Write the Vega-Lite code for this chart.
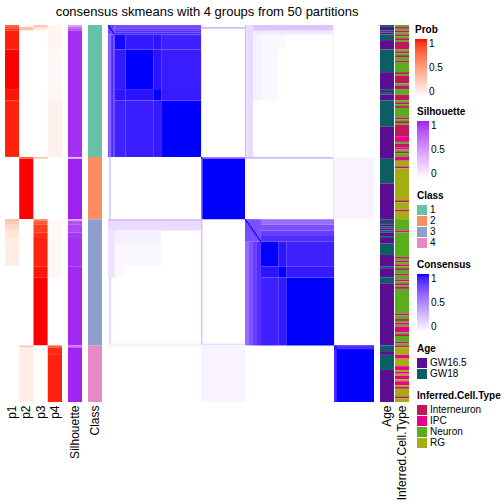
{
  "$schema": "https://vega.github.io/schema/vega-lite/v6.json",
  "width": 404,
  "height": 377,
  "padding": {"left": 5, "top": 6, "right": 0, "bottom": 0},
  "title": {"text": "consensus skmeans with 4 groups from 50 partitions", "fontSize": 13, "fontWeight": "normal", "font": "Liberation Sans", "color": "black", "offset": 6, "anchor": "middle"},
  "datasets": {
    "prob": [
      {"p": "p1", "from": 0, "to": 1, "v": 0.77}, {"p": "p1", "from": 1, "to": 2, "v": 0.88}, {"p": "p1", "from": 2, "to": 3, "v": 0.94}, {"p": "p1", "from": 3, "to": 13, "v": 0.97}, {"p": "p1", "from": 13, "to": 34, "v": 1.0}, {"p": "p1", "from": 34, "to": 40, "v": 0.985}, {"p": "p1", "from": 40, "to": 70, "v": 0.965}, {"p": "p1", "from": 70, "to": 103, "v": 0}, {"p": "p1", "from": 103, "to": 104, "v": 0.36}, {"p": "p1", "from": 104, "to": 106, "v": 0.28}, {"p": "p1", "from": 106, "to": 109, "v": 0.2}, {"p": "p1", "from": 109, "to": 113, "v": 0.14}, {"p": "p1", "from": 113, "to": 116, "v": 0.09}, {"p": "p1", "from": 116, "to": 128, "v": 0.1}, {"p": "p1", "from": 128, "to": 200, "v": 0},
      {"p": "p2", "from": 0, "to": 1, "v": 0}, {"p": "p2", "from": 1, "to": 3, "v": 0.32}, {"p": "p2", "from": 3, "to": 70, "v": 0}, {"p": "p2", "from": 70, "to": 71, "v": 0.77}, {"p": "p2", "from": 71, "to": 103, "v": 1.0}, {"p": "p2", "from": 103, "to": 170, "v": 0}, {"p": "p2", "from": 170, "to": 171, "v": 0.32}, {"p": "p2", "from": 171, "to": 200, "v": 0.09},
      {"p": "p3", "from": 0, "to": 1, "v": 0.32}, {"p": "p3", "from": 1, "to": 2, "v": 0.19}, {"p": "p3", "from": 2, "to": 3, "v": 0.1}, {"p": "p3", "from": 3, "to": 70, "v": 0}, {"p": "p3", "from": 70, "to": 71, "v": 0.32}, {"p": "p3", "from": 71, "to": 103, "v": 0}, {"p": "p3", "from": 103, "to": 104, "v": 0.64}, {"p": "p3", "from": 104, "to": 106, "v": 0.81}, {"p": "p3", "from": 106, "to": 110, "v": 0.9}, {"p": "p3", "from": 110, "to": 113, "v": 0.94}, {"p": "p3", "from": 113, "to": 128, "v": 0.965}, {"p": "p3", "from": 128, "to": 134, "v": 0.985}, {"p": "p3", "from": 134, "to": 170, "v": 1.0}, {"p": "p3", "from": 170, "to": 200, "v": 0},
      {"p": "p4", "from": 0, "to": 13, "v": 0.05}, {"p": "p4", "from": 13, "to": 34, "v": 0.035}, {"p": "p4", "from": 34, "to": 40, "v": 0.05}, {"p": "p4", "from": 40, "to": 70, "v": 0.07}, {"p": "p4", "from": 70, "to": 103, "v": 0}, {"p": "p4", "from": 103, "to": 134, "v": 0.045}, {"p": "p4", "from": 134, "to": 170, "v": 0}, {"p": "p4", "from": 170, "to": 171, "v": 0.81}, {"p": "p4", "from": 171, "to": 175, "v": 0.95}, {"p": "p4", "from": 175, "to": 200, "v": 0.965}
    ],
    "sil": [
      {"from": 0, "to": 1, "v": 0.47}, {"from": 1, "to": 2, "v": 0.73}, {"from": 2, "to": 3, "v": 0.87}, {"from": 3, "to": 70, "v": 0.96},
      {"from": 70, "to": 71, "v": 0.35}, {"from": 71, "to": 103, "v": 1.0},
      {"from": 103, "to": 104, "v": 0.47}, {"from": 104, "to": 106, "v": 0.84}, {"from": 106, "to": 110, "v": 0.88}, {"from": 110, "to": 113, "v": 0.93}, {"from": 113, "to": 128, "v": 0.96}, {"from": 128, "to": 170, "v": 0.98},
      {"from": 170, "to": 171, "v": 0.64}, {"from": 171, "to": 200, "v": 0.99}
    ],
    "cls": [
      {"from": 0, "to": 70, "k": "1"}, {"from": 70, "to": 103, "k": "2"}, {"from": 103, "to": 170, "k": "3"}, {"from": 170, "to": 200, "k": "4"}
    ],
    "cons": [
      {"r1": 5, "r2": 13, "c1": 5, "c2": 13, "v": 0.99}, {"r1": 13, "r2": 34, "c1": 13, "c2": 34, "v": 1}, {"r1": 34, "r2": 40, "c1": 34, "c2": 40, "v": 1}, {"r1": 40, "r2": 70, "c1": 40, "c2": 70, "v": 1},
      {"r1": 5, "r2": 13, "c1": 13, "c2": 34, "v": 0.95}, {"r1": 13, "r2": 34, "c1": 5, "c2": 13, "v": 0.95},
      {"r1": 5, "r2": 13, "c1": 34, "c2": 40, "v": 0.96}, {"r1": 34, "r2": 40, "c1": 5, "c2": 13, "v": 0.96},
      {"r1": 5, "r2": 13, "c1": 40, "c2": 70, "v": 0.93}, {"r1": 40, "r2": 70, "c1": 5, "c2": 13, "v": 0.93},
      {"r1": 13, "r2": 34, "c1": 34, "c2": 40, "v": 0.965}, {"r1": 34, "r2": 40, "c1": 13, "c2": 34, "v": 0.965},
      {"r1": 13, "r2": 34, "c1": 40, "c2": 70, "v": 0.94}, {"r1": 40, "r2": 70, "c1": 13, "c2": 34, "v": 0.94},
      {"r1": 34, "r2": 40, "c1": 40, "c2": 70, "v": 0.95}, {"r1": 40, "r2": 70, "c1": 34, "c2": 40, "v": 0.95},
      {"r1": 0, "r2": 1, "c1": 5, "c2": 70, "v": 0.75}, {"r1": 1, "r2": 2, "c1": 5, "c2": 70, "v": 0.8}, {"r1": 2, "r2": 3, "c1": 5, "c2": 70, "v": 0.85}, {"r1": 3, "r2": 4, "c1": 5, "c2": 70, "v": 0.89}, {"r1": 4, "r2": 5, "c1": 5, "c2": 70, "v": 0.92},
      {"r1": 5, "r2": 70, "c1": 0, "c2": 1, "v": 0.75}, {"r1": 5, "r2": 70, "c1": 1, "c2": 2, "v": 0.8}, {"r1": 5, "r2": 70, "c1": 2, "c2": 3, "v": 0.85}, {"r1": 5, "r2": 70, "c1": 3, "c2": 4, "v": 0.89}, {"r1": 5, "r2": 70, "c1": 4, "c2": 5, "v": 0.92},
      {"r1": 0, "r2": 5, "c1": 0, "c2": 5, "v": 0.8},
      {"r1": 0, "r2": 1, "c1": 0, "c2": 1, "v": 1}, {"r1": 1, "r2": 2, "c1": 1, "c2": 2, "v": 1}, {"r1": 2, "r2": 3, "c1": 2, "c2": 3, "v": 1}, {"r1": 3, "r2": 4, "c1": 3, "c2": 4, "v": 1}, {"r1": 4, "r2": 5, "c1": 4, "c2": 5, "v": 1},
      {"r1": 70, "r2": 103, "c1": 70, "c2": 103, "v": 1},
      {"r1": 70, "r2": 71, "c1": 71, "c2": 103, "v": 0.55}, {"r1": 71, "r2": 103, "c1": 70, "c2": 71, "v": 0.55},
      {"r1": 115, "r2": 128, "c1": 115, "c2": 128, "v": 1}, {"r1": 128, "r2": 134, "c1": 128, "c2": 134, "v": 1}, {"r1": 134, "r2": 170, "c1": 134, "c2": 170, "v": 1},
      {"r1": 115, "r2": 128, "c1": 128, "c2": 134, "v": 0.96}, {"r1": 128, "r2": 134, "c1": 115, "c2": 128, "v": 0.96},
      {"r1": 115, "r2": 128, "c1": 134, "c2": 170, "v": 0.93}, {"r1": 134, "r2": 170, "c1": 115, "c2": 128, "v": 0.93},
      {"r1": 128, "r2": 134, "c1": 134, "c2": 170, "v": 0.95}, {"r1": 134, "r2": 170, "c1": 128, "c2": 134, "v": 0.95},
      {"r1": 103, "r2": 106, "c1": 115, "c2": 170, "v": 0.62}, {"r1": 106, "r2": 109, "c1": 115, "c2": 170, "v": 0.74}, {"r1": 109, "r2": 112, "c1": 115, "c2": 170, "v": 0.82}, {"r1": 112, "r2": 115, "c1": 115, "c2": 170, "v": 0.89},
      {"r1": 115, "r2": 170, "c1": 103, "c2": 106, "v": 0.62}, {"r1": 115, "r2": 170, "c1": 106, "c2": 109, "v": 0.74}, {"r1": 115, "r2": 170, "c1": 109, "c2": 112, "v": 0.82}, {"r1": 115, "r2": 170, "c1": 112, "c2": 115, "v": 0.89},
      {"r1": 103, "r2": 115, "c1": 103, "c2": 115, "v": 0.75},
      {"r1": 103, "r2": 104, "c1": 103, "c2": 104, "v": 1}, {"r1": 104, "r2": 105, "c1": 104, "c2": 105, "v": 1}, {"r1": 105, "r2": 106, "c1": 105, "c2": 106, "v": 1}, {"r1": 106, "r2": 107, "c1": 106, "c2": 107, "v": 1}, {"r1": 107, "r2": 108, "c1": 107, "c2": 108, "v": 1}, {"r1": 108, "r2": 109, "c1": 108, "c2": 109, "v": 1}, {"r1": 109, "r2": 110, "c1": 109, "c2": 110, "v": 1}, {"r1": 110, "r2": 111, "c1": 110, "c2": 111, "v": 1}, {"r1": 111, "r2": 112, "c1": 111, "c2": 112, "v": 1}, {"r1": 112, "r2": 113, "c1": 112, "c2": 113, "v": 1}, {"r1": 113, "r2": 114, "c1": 113, "c2": 114, "v": 1}, {"r1": 114, "r2": 115, "c1": 114, "c2": 115, "v": 1},
      {"r1": 170, "r2": 200, "c1": 170, "c2": 200, "v": 1}, {"r1": 170, "r2": 172, "c1": 172, "c2": 200, "v": 0.89}, {"r1": 172, "r2": 200, "c1": 170, "c2": 172, "v": 0.89}, {"r1": 170, "r2": 172, "c1": 170, "c2": 172, "v": 0.95},
      {"r1": 103, "r2": 104, "c1": 0, "c2": 70, "v": 0.3}, {"r1": 104, "r2": 109, "c1": 0, "c2": 70, "v": 0.15}, {"r1": 109, "r2": 116, "c1": 0, "c2": 40, "v": 0.06}, {"r1": 116, "r2": 128, "c1": 0, "c2": 40, "v": 0.035}, {"r1": 128, "r2": 134, "c1": 0, "c2": 13, "v": 0.03}, {"r1": 109, "r2": 134, "c1": 0, "c2": 5, "v": 0.12}, {"r1": 134, "r2": 170, "c1": 1, "c2": 2, "v": 0.25}, {"r1": 169, "r2": 170, "c1": 0, "c2": 70, "v": 0.06},
      {"r1": 0, "r2": 70, "c1": 103, "c2": 104, "v": 0.3}, {"r1": 0, "r2": 70, "c1": 104, "c2": 109, "v": 0.15}, {"r1": 0, "r2": 40, "c1": 109, "c2": 116, "v": 0.06}, {"r1": 0, "r2": 40, "c1": 116, "c2": 128, "v": 0.035}, {"r1": 0, "r2": 13, "c1": 128, "c2": 134, "v": 0.03}, {"r1": 0, "r2": 3, "c1": 109, "c2": 170, "v": 0.24}, {"r1": 3, "r2": 5, "c1": 109, "c2": 170, "v": 0.1}, {"r1": 0, "r2": 70, "c1": 169, "c2": 170, "v": 0.06},
      {"r1": 1, "r2": 2, "c1": 70, "c2": 103, "v": 0.3}, {"r1": 70, "r2": 103, "c1": 1, "c2": 2, "v": 0.3},
      {"r1": 70, "r2": 71, "c1": 103, "c2": 170, "v": 0.3}, {"r1": 103, "r2": 170, "c1": 70, "c2": 71, "v": 0.3},
      {"r1": 169, "r2": 170, "c1": 70, "c2": 103, "v": 0.15}, {"r1": 70, "r2": 103, "c1": 169, "c2": 170, "v": 0.12},
      {"r1": 70, "r2": 103, "c1": 170, "c2": 200, "v": 0.05}, {"r1": 170, "r2": 200, "c1": 70, "c2": 103, "v": 0.05},
      {"r1": 170, "r2": 171, "c1": 0, "c2": 70, "v": 0.04}
    ],
    "age": [
      {"from": 0, "to": 1, "a": "GW18"}, {"from": 1, "to": 3, "a": "GW16.5"}, {"from": 3, "to": 4, "a": "GW18"}, {"from": 4, "to": 5, "a": "GW16.5"}, {"from": 5, "to": 8, "a": "GW18"}, {"from": 8, "to": 13, "a": "GW16.5"}, {"from": 13, "to": 25, "a": "GW18"}, {"from": 25, "to": 34, "a": "GW16.5"}, {"from": 34, "to": 35, "a": "GW18"}, {"from": 35, "to": 36, "a": "GW16.5"}, {"from": 36, "to": 37, "a": "GW18"}, {"from": 37, "to": 40, "a": "GW16.5"}, {"from": 40, "to": 54, "a": "GW18"}, {"from": 54, "to": 71, "a": "GW16.5"}, {"from": 71, "to": 84, "a": "GW18"}, {"from": 84, "to": 103, "a": "GW16.5"}, {"from": 103, "to": 104, "a": "GW18"}, {"from": 104, "to": 105, "a": "GW16.5"}, {"from": 105, "to": 106, "a": "GW18"}, {"from": 106, "to": 107, "a": "GW16.5"}, {"from": 107, "to": 108, "a": "GW18"}, {"from": 108, "to": 109, "a": "GW16.5"}, {"from": 109, "to": 110, "a": "GW18"}, {"from": 110, "to": 112, "a": "GW16.5"}, {"from": 112, "to": 113, "a": "GW18"}, {"from": 113, "to": 116, "a": "GW16.5"}, {"from": 116, "to": 122, "a": "GW18"}, {"from": 122, "to": 128, "a": "GW16.5"}, {"from": 128, "to": 129, "a": "GW18"}, {"from": 129, "to": 134, "a": "GW16.5"}, {"from": 134, "to": 137, "a": "GW18"}, {"from": 137, "to": 170, "a": "GW16.5"}, {"from": 170, "to": 173, "a": "GW18"}, {"from": 173, "to": 175, "a": "GW16.5"}, {"from": 175, "to": 183, "a": "GW18"}, {"from": 183, "to": 200, "a": "GW16.5"}
    ],
    "ctype": [
      {"from": 0, "to": 1, "t": "Neuron"}, {"from": 1, "to": 2, "t": "Interneuron"}, {"from": 2, "to": 3, "t": "Neuron"}, {"from": 3, "to": 4, "t": "Interneuron"}, {"from": 4, "to": 5, "t": "Neuron"}, {"from": 5, "to": 6, "t": "Interneuron"}, {"from": 6, "to": 7, "t": "Neuron"}, {"from": 7, "to": 8, "t": "Interneuron"}, {"from": 8, "to": 9, "t": "Neuron"}, {"from": 9, "to": 13, "t": "Interneuron"}, {"from": 13, "to": 14, "t": "Neuron"}, {"from": 14, "to": 15, "t": "Interneuron"}, {"from": 15, "to": 16, "t": "Neuron"}, {"from": 16, "to": 17, "t": "Interneuron"}, {"from": 17, "to": 19, "t": "Neuron"}, {"from": 19, "to": 20, "t": "Interneuron"}, {"from": 20, "to": 25, "t": "Neuron"}, {"from": 25, "to": 26, "t": "Interneuron"}, {"from": 26, "to": 27, "t": "Neuron"}, {"from": 27, "to": 31, "t": "Interneuron"}, {"from": 31, "to": 32, "t": "Neuron"}, {"from": 32, "to": 34, "t": "Interneuron"}, {"from": 34, "to": 37, "t": "Neuron"}, {"from": 37, "to": 40, "t": "Interneuron"}, {"from": 40, "to": 41, "t": "Neuron"}, {"from": 41, "to": 42, "t": "Interneuron"}, {"from": 42, "to": 43, "t": "Neuron"}, {"from": 43, "to": 44, "t": "Interneuron"}, {"from": 44, "to": 49, "t": "Neuron"}, {"from": 49, "to": 50, "t": "Interneuron"}, {"from": 50, "to": 51, "t": "Neuron"}, {"from": 51, "to": 52, "t": "Interneuron"}, {"from": 52, "to": 53, "t": "Neuron"}, {"from": 53, "to": 59, "t": "Interneuron"}, {"from": 59, "to": 62, "t": "IPC"}, {"from": 62, "to": 63, "t": "Neuron"}, {"from": 63, "to": 65, "t": "Interneuron"}, {"from": 65, "to": 66, "t": "IPC"}, {"from": 66, "to": 67, "t": "Neuron"}, {"from": 67, "to": 68, "t": "Interneuron"}, {"from": 68, "to": 70, "t": "Neuron"},
      {"from": 70, "to": 72, "t": "IPC"}, {"from": 72, "to": 75, "t": "RG"}, {"from": 75, "to": 76, "t": "Interneuron"}, {"from": 76, "to": 93, "t": "RG"}, {"from": 93, "to": 94, "t": "Interneuron"}, {"from": 94, "to": 98, "t": "RG"}, {"from": 98, "to": 99, "t": "Interneuron"}, {"from": 99, "to": 103, "t": "RG"},
      {"from": 103, "to": 109, "t": "Neuron"}, {"from": 109, "to": 110, "t": "IPC"}, {"from": 110, "to": 123, "t": "Neuron"}, {"from": 123, "to": 124, "t": "Interneuron"}, {"from": 124, "to": 125, "t": "Neuron"}, {"from": 125, "to": 126, "t": "Interneuron"}, {"from": 126, "to": 127, "t": "Neuron"}, {"from": 127, "to": 128, "t": "Interneuron"}, {"from": 128, "to": 129, "t": "Neuron"}, {"from": 129, "to": 130, "t": "Interneuron"}, {"from": 130, "to": 132, "t": "Neuron"}, {"from": 132, "to": 133, "t": "Interneuron"}, {"from": 133, "to": 135, "t": "Neuron"}, {"from": 135, "to": 136, "t": "IPC"}, {"from": 136, "to": 137, "t": "Neuron"}, {"from": 137, "to": 138, "t": "Interneuron"}, {"from": 138, "to": 139, "t": "Neuron"}, {"from": 139, "to": 140, "t": "IPC"}, {"from": 140, "to": 153, "t": "Neuron"}, {"from": 153, "to": 154, "t": "IPC"}, {"from": 154, "to": 156, "t": "Neuron"}, {"from": 156, "to": 157, "t": "Interneuron"}, {"from": 157, "to": 158, "t": "Neuron"}, {"from": 158, "to": 159, "t": "IPC"}, {"from": 159, "to": 160, "t": "Neuron"}, {"from": 160, "to": 163, "t": "IPC"}, {"from": 163, "to": 164, "t": "Neuron"}, {"from": 164, "to": 165, "t": "Interneuron"}, {"from": 165, "to": 168, "t": "Neuron"}, {"from": 168, "to": 169, "t": "Interneuron"}, {"from": 169, "to": 170, "t": "Neuron"},
      {"from": 170, "to": 171, "t": "Interneuron"}, {"from": 171, "to": 175, "t": "RG"}, {"from": 175, "to": 177, "t": "IPC"}, {"from": 177, "to": 181, "t": "RG"}, {"from": 181, "to": 183, "t": "IPC"}, {"from": 183, "to": 184, "t": "RG"}, {"from": 184, "to": 185, "t": "IPC"}, {"from": 185, "to": 186, "t": "RG"}, {"from": 186, "to": 188, "t": "IPC"}, {"from": 188, "to": 189, "t": "RG"}, {"from": 189, "to": 191, "t": "IPC"}, {"from": 191, "to": 192, "t": "RG"}, {"from": 192, "to": 193, "t": "IPC"}, {"from": 193, "to": 197, "t": "RG"}, {"from": 197, "to": 198, "t": "Interneuron"}, {"from": 198, "to": 200, "t": "RG"}
    ]
  },
  "layer": [
    {
      "data": {"name": "prob"},
      "mark": {"type": "rect"},
      "encoding": {
        "x": {"field": "p", "type": "nominal", "scale": {"domain": ["p1", "p2", "p3", "p4"], "range": [0, 57], "paddingInner": 0, "paddingOuter": 0}, "axis": {"orient": "bottom", "title": null}},
        "y": {"field": "from", "type": "quantitative", "scale": {"domain": [0, 200], "reverse": true, "nice": false, "zero": false}, "axis": null},
        "y2": {"field": "to"},
        "color": {"field": "v", "type": "quantitative", "title": "Prob", "scale": {"domain": [0, 1], "range": ["#FFFFFF", "#FF0000"], "interpolate": "lab"}, "legend": {"values": [0, 0.5, 1], "format": ".1~f", "padding": 0, "offset": 6}}
      }
    },
    {
      "data": {"name": "sil"},
      "mark": {"type": "rect"},
      "encoding": {
        "x": {"datum": "Silhouette", "type": "nominal", "scale": {"range": [63, 77], "paddingInner": 0, "paddingOuter": 0}, "axis": {"orient": "bottom", "title": null}},
        "y": {"field": "from", "type": "quantitative", "scale": {"domain": [0, 200], "reverse": true, "nice": false, "zero": false}, "axis": null},
        "y2": {"field": "to"},
        "color": {"field": "v", "type": "quantitative", "title": "Silhouette", "scale": {"domain": [0, 1], "range": ["#FFFFFF", "#A020F0"], "interpolate": "lab"}, "legend": {"values": [0, 0.5, 1], "format": ".1~f"}}
      }
    },
    {
      "data": {"name": "cls"},
      "mark": {"type": "rect"},
      "encoding": {
        "x": {"datum": "Class", "type": "nominal", "scale": {"range": [83, 97], "paddingInner": 0, "paddingOuter": 0}, "axis": {"orient": "bottom", "title": null}},
        "y": {"field": "from", "type": "quantitative", "scale": {"domain": [0, 200], "reverse": true, "nice": false, "zero": false}, "axis": null},
        "y2": {"field": "to"},
        "color": {"field": "k", "type": "nominal", "title": "Class", "scale": {"domain": ["1", "2", "3", "4"], "range": ["#66C2A5", "#FC8D62", "#8DA0CB", "#E78AC3"]}}
      }
    },
    {
      "data": {"name": "cons"},
      "mark": {"type": "rect"},
      "encoding": {
        "x": {"field": "c1", "type": "quantitative", "scale": {"domain": [0, 200], "range": [103, 369], "nice": false, "zero": false}, "axis": null},
        "x2": {"field": "c2"},
        "y": {"field": "r1", "type": "quantitative", "scale": {"domain": [0, 200], "reverse": true, "nice": false, "zero": false}, "axis": null},
        "y2": {"field": "r2"},
        "color": {"field": "v", "type": "quantitative", "title": "Consensus", "scale": {"domain": [0, 1], "range": ["#FFFFFF", "#0000FF"], "interpolate": "lab"}, "legend": {"values": [0, 0.5, 1], "format": ".1~f"}}
      }
    },
    {
      "data": {"name": "age"},
      "mark": {"type": "rect"},
      "encoding": {
        "x": {"datum": "Age", "type": "nominal", "scale": {"range": [375, 389], "paddingInner": 0, "paddingOuter": 0}, "axis": {"orient": "bottom", "title": null}},
        "y": {"field": "from", "type": "quantitative", "scale": {"domain": [0, 200], "reverse": true, "nice": false, "zero": false}, "axis": null},
        "y2": {"field": "to"},
        "color": {"field": "a", "type": "nominal", "title": "Age", "scale": {"domain": ["GW16.5", "GW18"], "range": ["#5B0E91", "#0B5F63"]}}
      }
    },
    {
      "data": {"name": "ctype"},
      "mark": {"type": "rect"},
      "encoding": {
        "x": {"datum": "Inferred.Cell.Type", "type": "nominal", "scale": {"range": [390, 404], "paddingInner": 0, "paddingOuter": 0}, "axis": {"orient": "bottom", "title": null}},
        "y": {"field": "from", "type": "quantitative", "scale": {"domain": [0, 200], "reverse": true, "nice": false, "zero": false}, "axis": null},
        "y2": {"field": "to"},
        "color": {"field": "t", "type": "nominal", "title": "Inferred.Cell.Type", "scale": {"domain": ["Interneuron", "IPC", "Neuron", "RG"], "range": ["#C2185B", "#E7008A", "#5AAE1E", "#A4AD14"]}}
      }
    }
  ],
  "resolve": {"scale": {"x": "independent", "color": "independent"}, "axis": {"x": "independent"}, "legend": {"color": "independent"}},
  "config": {
    "view": {"stroke": null},
    "axis": {"labelFont": "Liberation Sans", "labelFontSize": 12, "labelColor": "black", "labelAngle": -90, "ticks": false, "domain": false, "grid": false, "labelPadding": 3},
    "legend": {"offset": 4, "titleFont": "Liberation Sans", "titleFontSize": 10, "titleFontWeight": "bold", "titleColor": "black", "labelFont": "Liberation Sans", "labelFontSize": 10, "labelColor": "black", "gradientLength": 58, "gradientThickness": 12, "gradientStrokeWidth": 0, "symbolType": "square", "symbolSize": 100, "symbolStrokeWidth": 0, "symbolOpacity": 1, "rowPadding": 1, "titlePadding": 4, "labelOffset": 3, "padding": 2}
  }
}
